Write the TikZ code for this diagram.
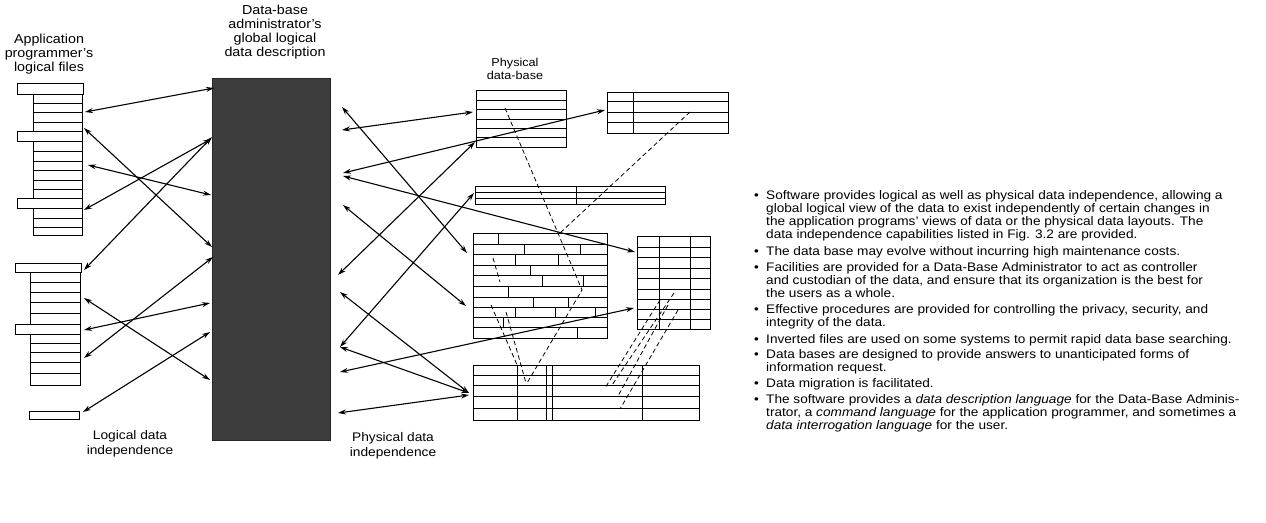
\documentclass[tikz,border=0pt]{standalone}
\usepackage{fontspec}
\setmainfont{Liberation Sans}[FakeStretch=1.1]
\usetikzlibrary{arrows.meta}
\begin{document}
\begin{tikzpicture}[x=1pt,y=-1pt,
  ln/.style={line width=1pt},
  hdr/.style={draw, line width=1pt, fill=white},
  conn/.style={line width=1.1pt, {Stealth[length=8pt,width=5pt]}-{Stealth[length=8pt,width=5pt]}},
  dsh/.style={line width=0.8pt, dash pattern=on 4.5pt off 3pt},
  lbl/.style={font=\fontsize{13}{13.8}\selectfont, align=center, inner sep=0pt},
  txt/.style={font=\fontsize{12.4}{13}\selectfont, anchor=base west, inner sep=0pt},
  bul/.style={font=\fontsize{12.4}{13}\selectfont, anchor=base west, inner sep=0pt}]
\useasboundingbox (0,0) rectangle (1266,522);

% ---------- labels ----------
\node[lbl] (lapp) at (49,54) {Application\\programmer's\\logical files};
\node[lbl] (ldba) at (275,32) {Data-base\\administrator's\\global logical\\data description};
\node[lbl, font=\fontsize{11.5}{13}\selectfont] (lpdb) at (515,69) {Physical\\data-base};
\node[lbl, font=\fontsize{12.5}{15}\selectfont] (lldi) at (130,444) {Logical data\\independence};
\node[lbl, font=\fontsize{12.5}{15}\selectfont] (lpdi) at (393,446) {Physical data\\independence};

% ---------- logical files, stack 1 ----------
\draw[ln] (33,94) -- (33,235) -- (82,235) -- (82,83);
\foreach \y in {103,112,122,151,161,170,180,189,218,227}{\draw[ln] (33,\y) -- (82,\y);}
\draw[hdr] (17,83) rectangle (83,94);
\draw[hdr] (17,131) rectangle (82,141);
\draw[hdr] (17,198) rectangle (82,208);
% ---------- logical files, stack 2 ----------
\draw[ln] (30,272) -- (30,385) -- (80,385) -- (80,263);
\foreach \y in {282,292,302,313,343,352,362,373}{\draw[ln] (30,\y) -- (80,\y);}
\draw[hdr] (15,263) rectangle (81,272);
\draw[hdr] (15,324) rectangle (80,334);
% small file
\draw[hdr] (29,411) rectangle (79,419);

% ---------- DBA block ----------
\node[fill=black!76, draw=black!85, minimum width=118pt, minimum height=362pt, inner sep=0pt] (dba) at (271,259) {};

% ---------- physical data-base ----------
% table A
\draw[ln] (476,90) rectangle (566,147);
\foreach \y in {100,109,119,128,137}{\draw[ln] (476,\y) -- (566,\y);}
% table B
\draw[ln] (607,92) rectangle (728,133);
\draw[ln] (633,92) -- (633,133);
\foreach \y in {101,112,122}{\draw[ln] (607,\y) -- (728,\y);}
% table C
\draw[ln] (475,186) rectangle (665,204);
\draw[ln] (576,186) -- (576,204);
\foreach \y in {192,198}{\draw[ln] (475,\y) -- (665,\y);}
% table D (brick)
\draw[ln] (473,233) rectangle (607,338);
\foreach \y in {244,254,265,275,286,297,307,317,327}{\draw[ln] (473,\y) -- (607,\y);}
\foreach \x/\a/\b in {498/233/244, 524/244/254, 580/244/254, 515/254/265, 558/254/265,
  530/265/275, 542/275/286, 583/275/286, 508/286/297, 533/297/307, 568/297/307,
  515/307/317, 555/307/317, 595/307/317, 503/317/327, 577/327/338}
  {\draw[ln] (\x,\a) -- (\x,\b);}
% table E
\draw[ln] (637,236) rectangle (710,329);
\foreach \x in {659,690}{\draw[ln] (\x,236) -- (\x,329);}
\foreach \y in {247,257,268,278,289,299,309,319}{\draw[ln] (637,\y) -- (710,\y);}
% table F
\draw[ln] (473,365) rectangle (699,420);
\foreach \x in {517,546,552,642}{\draw[ln] (\x,365) -- (\x,420);}
\foreach \y in {375,385,396,408}{\draw[ln] (473,\y) -- (699,\y);}

% ---------- connector end points ----------
\coordinate (f1) at (85,112);  \coordinate (b1) at (214,88);
\coordinate (f2) at (84,128);  \coordinate (b2) at (212,247);
\coordinate (f3) at (88,165);  \coordinate (b3) at (211,195);
\coordinate (f4) at (84,210);  \coordinate (b4) at (211,139);
\coordinate (f5) at (84,270);  \coordinate (b5) at (212,137);
\coordinate (f6) at (84,298);  \coordinate (b6) at (210,380);
\coordinate (f7) at (84,330);  \coordinate (b7) at (210,303);
\coordinate (f8) at (84,358);  \coordinate (b8) at (213,257);
\coordinate (f9) at (83,412);  \coordinate (b9) at (210,332);

\coordinate (r1) at (342,130); \coordinate (p1) at (473,112);
\coordinate (r2) at (343,173); \coordinate (p2) at (605,110);
\coordinate (r3) at (342,107); \coordinate (p3) at (467,253);
\coordinate (r4) at (343,176); \coordinate (p4) at (635,252);
\coordinate (r5) at (340,347); \coordinate (p5) at (474,193);
\coordinate (r6) at (338,275); \coordinate (p6) at (475,142);
\coordinate (r7) at (343,205); \coordinate (p7) at (466,306);
\coordinate (r8) at (340,292); \coordinate (p8) at (469,393);
\coordinate (r9) at (340,347);
\coordinate (r10) at (340,372); \coordinate (p10) at (634,308);
\coordinate (r11) at (338,413); \coordinate (p11) at (469,395);

\foreach \i in {1,...,9}{\draw[conn] (f\i) -- (b\i);}
\foreach \i in {1,2,3,4,5,6,7,8,10,11}{\draw[conn] (r\i) -- (p\i);}
\draw[conn] (r9) -- (p8);

% ---------- dashed links ----------
\coordinate (d1) at (505,108); \coordinate (d2) at (582,290); \coordinate (d3) at (527,383);
\draw[dsh] (d1) -- (d2) -- (d3);
\coordinate (d4) at (690,112); \coordinate (d5) at (560,233);
\draw[dsh] (d4) -- (d5);
\coordinate (d6) at (493,258); \coordinate (d7) at (500,282);
\draw[dsh] (d6) -- (d7);
\coordinate (d8) at (491,305); \coordinate (d9) at (518,367);
\draw[dsh] (d8) -- (d9);
\coordinate (d10) at (506,312); \coordinate (d11) at (526,383);
\draw[dsh] (d10) -- (d11);
\coordinate (e1) at (674,293); \coordinate (e2) at (612,385);
\coordinate (e3) at (668,305); \coordinate (e4) at (618,396);
\coordinate (e5) at (678,310); \coordinate (e6) at (620,409);
\coordinate (e7) at (660,300); \coordinate (e8) at (605,388);
\draw[dsh] (e1) -- (e2);
\draw[dsh] (e3) -- (e4);
\draw[dsh] (e5) -- (e6);
\draw[dsh] (e7) -- (e8);

% ---------- bullet text ----------
\node[bul] (b01) at (754,199) {\textbullet};
\node[txt] (t01) at (766,199) {Software provides logical as well as physical data independence, allowing a};
\node[txt] (t02) at (766,212) {global logical view of the data to exist independently of certain changes in};
\node[txt] (t03) at (766,225) {the application programs' views of data or the physical data layouts. The};
\node[txt] (t04) at (766,238) {data independence capabilities listed in Fig. 3.2 are provided.};
\node[bul] (b02) at (754,255) {\textbullet};
\node[txt] (t05) at (766,255) {The data base may evolve without incurring high maintenance costs.};
\node[bul] (b03) at (754,271) {\textbullet};
\node[txt] (t06) at (766,271) {Facilities are provided for a Data-Base Administrator to act as controller};
\node[txt] (t07) at (766,284) {and custodian of the data, and ensure that its organization is the best for};
\node[txt] (t08) at (766,297) {the users as a whole.};
\node[bul] (b04) at (754,313) {\textbullet};
\node[txt] (t09) at (766,313) {Effective procedures are provided for controlling the privacy, security, and};
\node[txt] (t10) at (766,326) {integrity of the data.};
\node[bul] (b05) at (754,343) {\textbullet};
\node[txt] (t11) at (766,343) {Inverted files are used on some systems to permit rapid data base searching.};
\node[bul] (b06) at (754,358) {\textbullet};
\node[txt] (t12) at (766,358) {Data bases are designed to provide answers to unanticipated forms of};
\node[txt] (t13) at (766,371) {information request.};
\node[bul] (b07) at (754,387) {\textbullet};
\node[txt] (t14) at (766,387) {Data migration is facilitated.};
\node[bul] (b08) at (754,403) {\textbullet};
\node[txt] (t15) at (766,403) {The software provides a \textit{data description language} for the Data-Base Adminis-};
\node[txt] (t16) at (766,416) {trator, a \textit{command language} for the application programmer, and sometimes a};
\node[txt] (t17) at (766,429) {\textit{data interrogation language} for the user.};
\end{tikzpicture}
\end{document}
